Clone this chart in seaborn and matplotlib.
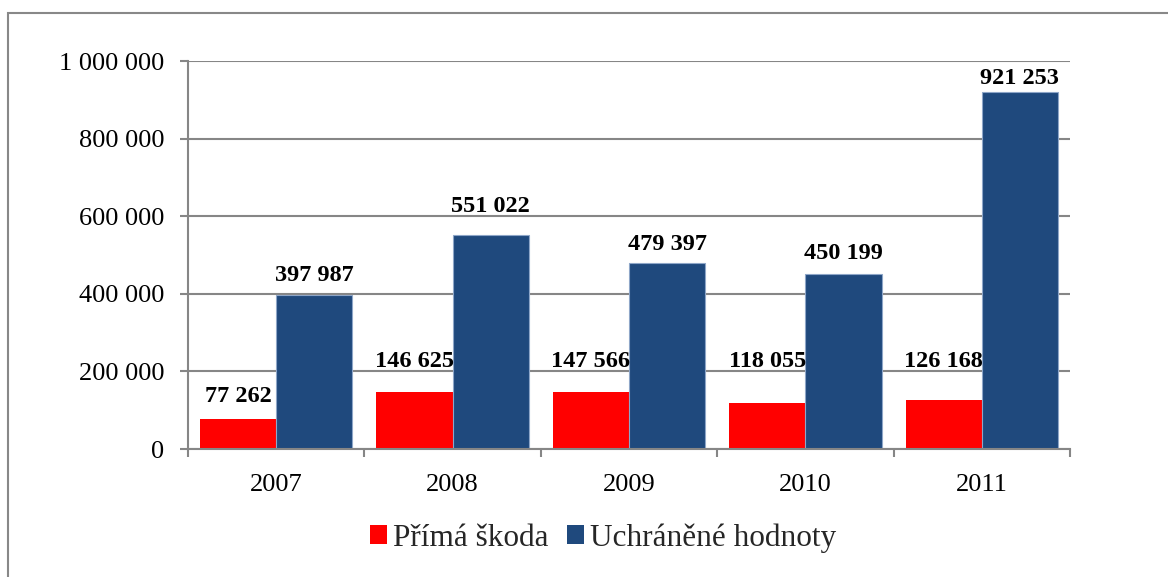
import matplotlib
matplotlib.use("Agg")
import matplotlib.pyplot as plt
import seaborn as sns
import pandas as pd
from matplotlib.patches import Rectangle
from matplotlib.ticker import FuncFormatter, FixedLocator

years = ["2007", "2008", "2009", "2010", "2011"]
prima_skoda = [77262, 146625, 147566, 118055, 126168]
uchranene = [397987, 551022, 479397, 450199, 921253]
series_names = ["Přímá škoda", "Uchráněné hodnoty"]
colors = ["#FF0000", "#1F497D"]

# label lift above bar tops (points) - layout only
label_pad_red = [8.8, 14.6, 13.9, 22.5, 20.4]
label_pad_blue = [6.0, 13.2, 6.0, 7.4, 1.8]

df = pd.DataFrame({
    "rok": years * 2,
    "hodnota": prima_skoda + uchranene,
    "serie": [series_names[0]] * len(years) + [series_names[1]] * len(years),
})

sns.set_theme(style="white")
plt.rcParams["font.family"] = ["Liberation Serif", "DejaVu Serif"]

fig = plt.figure(figsize=(11.68, 5.77), dpi=100)
W, H = 1168, 577
ax = fig.add_axes([188 / W, 1 - 449 / H, (1070 - 188) / W, (449 - 61) / H])

sns.barplot(data=df, x="rok", y="hodnota", hue="serie", palette=colors,
            width=0.864, gap=0, saturation=1, ax=ax, legend=True, errorbar=None,
            linewidth=0)

def fmt(v, pos=None):
    return f"{int(round(v)):,}".replace(",", " ")

ax.set_ylim(0, 1000000)
ax.set_xlim(-0.5, len(years) - 0.5)
ax.yaxis.set_major_locator(FixedLocator([0, 200000, 400000, 600000, 800000, 1000000]))
ax.yaxis.set_major_formatter(FuncFormatter(fmt))
ax.set_xlabel("")
ax.set_ylabel("")

gray = "#868686"
ax.grid(axis="y", color=gray, linewidth=1.5)
ax.set_axisbelow(True)
for s in ["top", "right"]:
    ax.spines[s].set_visible(False)
for s in ["left", "bottom"]:
    ax.spines[s].set_color(gray)
    ax.spines[s].set_linewidth(1.5)

ax.tick_params(axis="y", which="major", left=True, length=6, width=1.5, color=gray,
               labelsize=19, pad=11, labelcolor="black")
ax.tick_params(axis="x", which="major", bottom=False, length=0, labelsize=19, pad=18,
               labelcolor="black")
ax.set_xticks([i - 0.5 for i in range(len(years) + 1)], minor=True)
ax.tick_params(axis="x", which="minor", bottom=True, length=6, width=1.5, color=gray)

conts = ax.containers
for p in conts[1].patches:
    p.set_edgecolor("#8EA6C8")
    p.set_linewidth(0.8)

for cont, pads in zip(conts, [label_pad_red, label_pad_blue]):
    for rect, v, pd_ in zip(cont.patches, cont.datavalues, pads):
        ax.annotate(fmt(v), (rect.get_x() + rect.get_width() / 2, rect.get_height()),
                    xytext=(0, pd_), textcoords="offset points", ha="center", va="bottom",
                    fontsize=17.5, fontweight="bold", color="black", annotation_clip=False)

leg = ax.get_legend()
handles, labels = ax.get_legend_handles_labels()
leg.remove()
fig.legend(handles, labels, loc="center", bbox_to_anchor=(603 / W, 1 - 538 / H),
           ncol=2, frameon=False, fontsize=22.5, handlelength=0.55, handleheight=0.55,
           handletextpad=0.18, columnspacing=0.6)

fig.patches.append(Rectangle((8 / W, -0.1), 1.2, 1 - 13 / H + 0.1, transform=fig.transFigure,
                             fill=False, edgecolor="#888888", linewidth=1.5))

fig.savefig("out.png", dpi=100)
